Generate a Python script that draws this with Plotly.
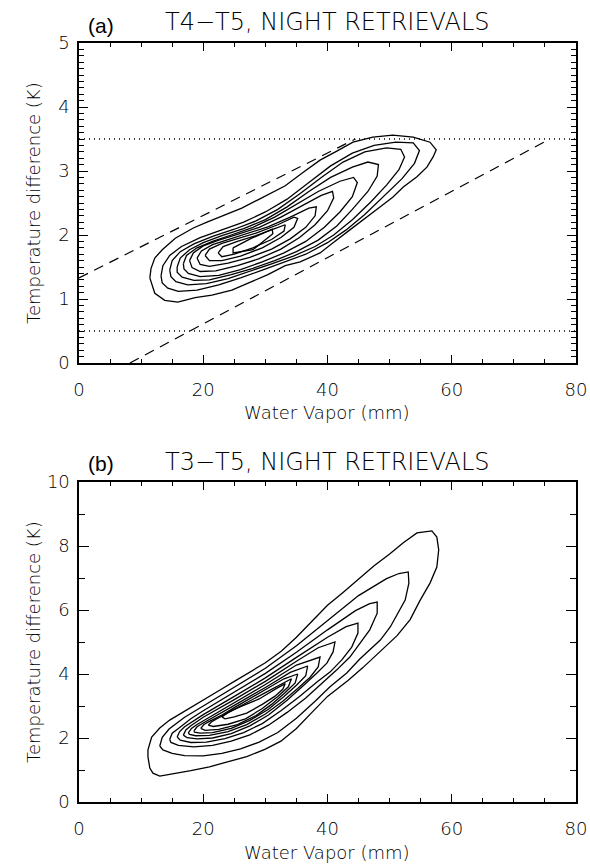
import plotly.graph_objects as go

# ---------------- data ----------------
X_TICKS = [0, 20, 40, 60, 80]
YA_TICKS = [0, 1, 2, 3, 4, 5]
YB_TICKS = [0, 2, 4, 6, 8, 10]

# panel (a) reference lines
A_DOT_LEVELS = [0.5, 3.5]
A_UPPER_DASH = [(0.0, 1.33), (44.5, 3.5)]
A_LOWER_DASH = [(8.2, 0.0), (75.8, 3.5)]

# panel (a) contours (water vapour mm, T4-T5 K)
A_C1 = [(11.4,1.33),(11.6,1.48),(12.2,1.64),(13.4,1.77),(15.5,1.95),(18.4,2.11),(20.6,2.20),(23.5,2.31),
        (26.2,2.42),(28.8,2.55),(31.1,2.66),(33.2,2.77),(36.1,2.98),(38.8,3.17),(41.5,3.31),(44.1,3.45),
        (47.3,3.53),(50.5,3.56),(53.8,3.53),(56.5,3.45),(57.5,3.33),(57.0,3.22),(56.0,3.06),(54.4,2.91),
        (52.2,2.75),(50.5,2.59),(48.5,2.44),(46.4,2.28),(43.6,2.08),(40.9,1.88),(38.8,1.72),(35.6,1.58),
        (33.2,1.52),(30.4,1.38),(27.8,1.27),(24.6,1.14),(21.4,1.06),(18.7,1.02),(15.9,0.95),(13.8,0.98),
        (12.2,1.09),(11.4,1.33)]
A_C2 = [(13.2,1.36),(13.5,1.52),(14.6,1.68),(16.5,1.82),(19.5,1.96),(23,2.08),(26.5,2.2),(30,2.36),
        (33.5,2.56),(37,2.82),(40.5,3.08),(44,3.28),(47.5,3.40),(51,3.45),(53.8,3.44),(54.8,3.32),
        (54,3.12),(52,2.88),(49,2.6),(46,2.32),(43,2.08),(40,1.88),(36.5,1.70),(33,1.57),(29.5,1.45),
        (26,1.33),(22.5,1.22),(19,1.14),(16,1.12),(14.3,1.17),(13.4,1.25),(13.2,1.36)]
A_C3 = [(14.6,1.45),(15,1.60),(16.3,1.74),(18.5,1.86),(21.5,1.98),(25,2.09),(28.5,2.22),(32,2.4),
        (35.5,2.64),(39,2.9),(42.5,3.14),(46,3.3),(49.5,3.36),(51.8,3.34),(52.4,3.22),(51.5,3.02),
        (49.5,2.78),(47,2.52),(44,2.24),(41,2.0),(38,1.82),(34.5,1.67),(31,1.55),(27.5,1.43),(24,1.32),
        (20.5,1.24),(17.5,1.22),(15.6,1.27),(14.8,1.35),(14.6,1.45)]
A_C4 = [(15.8,1.5),(16.3,1.64),(17.8,1.77),(20,1.88),(23,1.99),(26.5,2.1),(30,2.24),(33.5,2.44),
        (37,2.68),(40.5,2.9),(44,3.06),(46.5,3.14),(48.2,3.1),(48,2.92),(46.5,2.68),(44,2.4),(41.5,2.14),
        (38.5,1.92),(35,1.74),(31.5,1.6),(28,1.48),(24.5,1.38),(21,1.3),(18.5,1.29),(16.6,1.34),
        (15.8,1.42),(15.8,1.5)]
A_C5 = [(16.8,1.55),(17.3,1.68),(19,1.8),(21.5,1.9),(24.5,2.0),(28,2.12),(31.5,2.28),(35,2.48),
        (38.5,2.68),(42,2.84),(44.2,2.9),(44.8,2.82),(44,2.6),(42,2.36),(39.5,2.12),(36.5,1.9),(33,1.72),
        (29.5,1.58),(26,1.46),(22.5,1.37),(19.5,1.35),(17.6,1.4),(16.9,1.47),(16.8,1.55)]
A_C6 = [(17.8,1.6),(18.4,1.72),(20,1.83),(22.5,1.92),(25.5,2.01),(29,2.12),(32.5,2.28),(36,2.46),
        (39,2.62),(40.8,2.68),(41.0,2.58),(40,2.38),(38,2.16),(35.5,1.96),(32.5,1.78),(29,1.63),
        (25.5,1.52),(22,1.44),(19.5,1.43),(18.2,1.49),(17.8,1.6)]
A_C7 = [(19.0,1.64),(19.7,1.75),(21.5,1.85),(24,1.93),(27,2.02),(30.5,2.13),(34,2.28),(37,2.42),
        (38.2,2.44),(38,2.3),(36.5,2.12),(34,1.94),(31,1.78),(27.5,1.65),(24,1.56),(21,1.51),
        (19.5,1.54),(19.0,1.64)]
A_C8 = [(20.3,1.68),(21,1.78),(23,1.87),(25.5,1.94),(28.5,2.03),(32,2.16),(34.6,2.28),(35.2,2.26),
        (34.6,2.12),(32.5,1.96),(29.5,1.8),(26,1.67),(23,1.6),(21,1.6),(20.3,1.68)]
A_C9 = [(22.4,1.72),(23.2,1.82),(25.5,1.9),(28.5,1.99),(31.5,2.1),(33.2,2.16),(33,2.06),(31,1.93),
        (28,1.8),(25,1.7),(23,1.66),(22.4,1.72)]
A_C10 = [(24.8,1.80),(24.8,1.72),(28.0,1.77),(31.2,2.02),(31.1,2.09),(27.8,1.95),(24.8,1.80)]

# panel (b) contours (water vapour mm, T3-T5 K)
B_C1 = [(11.1,1.41),(11.1,1.63),(11.7,2.03),(13.0,2.31),(14.6,2.56),(16.7,2.81),(20,3.19),(22.7,3.5),
        (25,3.77),(27.5,4.05),(30,4.35),(32.6,4.72),(35,5.15),(37.5,5.65),(40,6.15),(42.5,6.55),
        (45,6.98),(47.5,7.38),(50,7.75),(52.2,8.1),(54.4,8.41),(56.8,8.47),(57.6,8.28),(57.9,7.88),
        (57.6,7.34),(56.5,6.84),(54.9,6.3),(53.3,5.7),(51.2,5.2),(48.5,4.7),(45.7,4.2),(43.3,3.8),
        (40,3.3),(37.5,2.8),(35,2.3),(32.5,1.9),(30,1.65),(27,1.42),(24,1.25),(21,1.1),(18,0.98),
        (15,0.88),(13.0,0.81),(11.9,0.9),(11.4,1.06),(11.1,1.41)]
B_C2 = [(13.0,1.75),(13.4,2.02),(14.5,2.28),(17,2.65),(20,3.0),(25,3.58),(30,4.18),(35,4.88),(40,5.68),
        (45,6.45),(49.5,6.98),(51.5,7.14),(53.0,7.19),(53.1,6.84),(52.5,6.31),(51.3,5.9),(50.1,5.47),
        (48.5,5.06),(46.8,4.75),(45.2,4.47),(43.1,4.03),(40.4,3.6),(38,3.15),(35,2.62),(32,2.17),
        (29,1.87),(26,1.66),(23,1.52),(20,1.44),(17,1.45),(15,1.52),(13.5,1.63),(13.0,1.75)]
B_C3 = [(14.6,1.95),(15,2.15),(16,2.3),(18,2.6),(20,2.85),(25,3.43),(30,4.02),(35,4.68),(40,5.38),
        (44.5,5.98),(46.8,6.2),(48.0,6.25),(48.0,5.9),(46.8,5.38),(45.2,4.97),(43.6,4.53),(41.5,4.13),
        (39.3,3.75),(36.5,3.25),(33.5,2.8),(30.5,2.4),(27.5,2.1),(24.5,1.9),(21.5,1.77),(18.5,1.72),
        (16,1.77),(14.8,1.86),(14.6,1.95)]
B_C4 = [(15.8,2.03),(16.2,2.2),(17,2.35),(20,2.73),(25,3.3),(30,3.88),(35,4.52),(40,5.15),(43,5.48),
        (44.9,5.59),(44.9,5.28),(43.9,4.84),(42.3,4.44),(40.4,4.06),(38.3,3.75),(35.5,3.3),(32.5,2.85),
        (29.5,2.45),(26.5,2.17),(23.5,1.98),(20.5,1.87),(18,1.86),(16.3,1.93),(15.8,2.03)]
B_C5 = [(16.8,2.09),(17.2,2.25),(18,2.38),(20,2.65),(25,3.2),(30,3.77),(35,4.4),(38.5,4.82),(41.2,5.0),
        (40.9,4.69),(39.9,4.34),(38.3,4.03),(36,3.62),(33.5,3.18),(30.5,2.72),(27.5,2.38),(24.5,2.14),
        (21.5,2.0),(19,1.97),(17.4,2.01),(16.8,2.09)]
B_C6 = [(17.6,2.16),(18.1,2.3),(19,2.42),(21,2.65),(25,3.1),(30,3.67),(35,4.28),(38.8,4.53),(38.5,4.22),
        (37.2,3.9),(35.2,3.55),(32.8,3.15),(30,2.75),(27,2.42),(24,2.2),(21,2.08),(18.8,2.07),(17.8,2.11),
        (17.6,2.16)]
B_C7 = [(18.5,2.22),(19,2.35),(20,2.47),(22,2.68),(25,3.02),(30,3.58),(34,4.05),(36.8,4.25),(36.5,3.95),
        (35,3.65),(33,3.3),(30.5,2.9),(27.5,2.55),(24.5,2.3),(21.5,2.17),(19.5,2.15),(18.6,2.18),(18.5,2.22)]
B_C8 = [(19.6,2.3),(20.1,2.42),(21,2.52),(23,2.72),(25,2.95),(30,3.5),(33,3.85),(35.2,4.0),(34.8,3.72),
        (33.2,3.42),(31,3.05),(28.5,2.7),(25.5,2.42),(22.5,2.27),(20.3,2.24),(19.6,2.3)]
B_C9 = [(20.8,2.4),(21.3,2.5),(22,2.58),(25,2.9),(30,3.42),(34.2,3.85),(33.7,3.6),(32,3.3),(29.5,2.92),
        (26.8,2.6),(24,2.43),(21.6,2.36),(20.8,2.4)]
B_C10 = [(23.0,2.66),(24,2.8),(26,2.98),(29,3.22),(31.8,3.55),(33.2,3.7),(32.8,3.52),(31.5,3.3),
         (29.5,3.05),(27,2.78),(25,2.66),(23.5,2.6),(23.0,2.66)]

A_CONTOURS = [A_C1, A_C2, A_C3, A_C4, A_C5, A_C6, A_C7, A_C8, A_C9, A_C10]
B_CONTOURS = [B_C1, B_C2, B_C3, B_C4, B_C5, B_C6, B_C7, B_C8, B_C9, B_C10]

TITLE_A = "T4\u2212T5, NIGHT RETRIEVALS"
TITLE_B = "T3\u2212T5, NIGHT RETRIEVALS"
X_TITLE = "Water Vapor (mm)"
Y_TITLE = "Temperature difference (K)"

# ---------------- figure ----------------
W, H = 590, 865
FONT = "DejaVu Sans ExtraLight, DejaVu Sans Light, DejaVu Sans"
fig = go.Figure()

def add_line(pts, xa, ya, dash="solid", width=1.3):
    fig.add_trace(go.Scatter(x=[p[0] for p in pts], y=[p[1] for p in pts], mode="lines",
                             line=dict(color="black", width=width, dash=dash),
                             xaxis=xa, yaxis=ya, hoverinfo="skip", showlegend=False))

for lev in A_DOT_LEVELS:
    add_line([(0, lev), (80, lev)], "x", "y", dash="1px,4px", width=1.3)
add_line(A_UPPER_DASH, "x", "y", dash="10px,7px", width=1.2)
add_line(A_LOWER_DASH, "x", "y", dash="10px,7px", width=1.2)
for c in A_CONTOURS:
    add_line(c, "x", "y")
for c in B_CONTOURS:
    add_line(c, "x2", "y2")

x0, x1 = 79 / W, 576 / W
dom_a = [1 - 363 / H, 1 - 43 / H]
dom_b = [1 - 802 / H, 1 - 482 / H]

common = dict(showline=True, linecolor="black", linewidth=1.6, mirror="allticks",
              ticks="inside", tickcolor="black", tickwidth=1, showgrid=False, zeroline=False,
              automargin=False, tickfont=dict(family=FONT, size=18, color="black"))

xcommon = dict(common, range=[0, 80], tickvals=X_TICKS, ticklen=8,
               minor=dict(dtick=5, tick0=0, ticklen=4, ticks="inside", tickcolor="black", showgrid=False),
               domain=[x0, x1], ticklabelstandoff=10)

fig.update_layout(
    width=W, height=H, margin=dict(l=0, r=0, t=0, b=0, pad=0, autoexpand=False),
    paper_bgcolor="white", plot_bgcolor="white", showlegend=False,
    xaxis=dict(xcommon, anchor="y"),
    yaxis=dict(common, range=[0, 5], tickvals=YA_TICKS, ticklen=9, domain=dom_a, anchor="x",
               ticklabelstandoff=4,
               minor=dict(dtick=0.1, tick0=0, ticklen=5, ticks="inside", tickcolor="black", showgrid=False)),
    xaxis2=dict(xcommon, anchor="y2"),
    yaxis2=dict(common, range=[0, 10], tickvals=YB_TICKS, ticklen=10, domain=dom_b, anchor="x2",
                ticklabelstandoff=4,
                minor=dict(dtick=1, tick0=0, ticklen=6, ticks="inside", tickcolor="black", showgrid=False)),
)

def ann(text, xpx, ypx, size, family=FONT, angle=0):
    fig.add_annotation(text=text, x=xpx / W, y=1 - ypx / H, xref="paper", yref="paper",
                       showarrow=False, textangle=angle, xanchor="center", yanchor="middle",
                       font=dict(family=family, size=size, color="black"))

ann("(a)", 101, 26, 21, family="Liberation Sans")
ann(TITLE_A, 327, 22, 24)
ann(X_TITLE, 327, 412, 18)
ann(Y_TITLE, 33, 203, 18, angle=-90)
ann("(b)", 101, 464, 21, family="Liberation Sans")
ann(TITLE_B, 327, 462, 24)
ann(X_TITLE, 327, 852, 18)
ann(Y_TITLE, 33, 642, 18, angle=-90)

fig.write_html("out.html", config={"displayModeBar": False, "staticPlot": True},
               post_script="document.body.style.margin='0px';document.body.style.padding='0px';"
                           "document.documentElement.style.margin='0px';")
